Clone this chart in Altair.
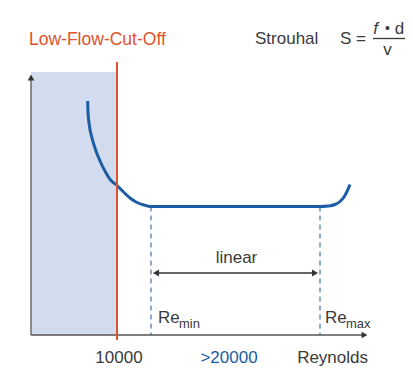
import altair as alt
import pandas as pd

# ---- data (schematic coordinates: x from left, y from top of the figure) ----
curve_x = [87.7, 88, 89.3, 92, 96, 100.5, 105.5, 110.5, 116, 123, 130, 137, 144,
           151, 320, 328, 335, 340, 344, 347, 350]
curve_y = [101, 112, 125, 138, 151, 162, 172, 180, 184.5, 191.5, 198, 202.5, 205,
           206.5, 206.5, 206, 204.5, 201.5, 197, 191.5, 184.5]

cutoff_x = 117          # Low-Flow-Cut-Off (Re = 10000)
re_min_x = 151
re_max_x = 320
flat_y = 206.5
axis_x0, axis_y0 = 31, 335
axis_x_end, axis_y_top = 368, 74
shade_top = 72

bottom_labels = ["10000", ">20000"]
bottom_label_x = [119, 229]

W, H = 413, 376
FONT = "Liberation Sans"
GRAY = "#3a3a3a"
BLUE = "#1b5ca5"
ORANGE = "#e0532c"

xs = alt.Scale(domain=[0, W])
ys = alt.Scale(domain=[H, 0])


def X(f="x"):
    return alt.X(f"{f}:Q", scale=xs, axis=None)


def Y(f="y"):
    return alt.Y(f"{f}:Q", scale=ys, axis=None)


shade = alt.Chart(pd.DataFrame({"x": [axis_x0], "x2": [cutoff_x], "y": [shade_top], "y2": [axis_y0]})).mark_rect(
    color="#d3dbee").encode(x=X(), x2="x2:Q", y=Y(), y2="y2:Q")

axes = alt.Chart(pd.DataFrame({
    "x": [axis_x0, axis_x0], "x2": [axis_x_end - 4, axis_x0],
    "y": [axis_y0, axis_y0], "y2": [axis_y0, axis_y_top + 4]})).mark_rule(
    color="#555555", strokeWidth=1.3).encode(x=X(), x2="x2:Q", y=Y(), y2="y2:Q")

axis_heads = alt.Chart(pd.DataFrame({
    "x": [axis_x_end - 3.5, axis_x0], "y": [axis_y0, axis_y_top + 3.5],
    "s": ["triangle-right", "triangle-up"]})).mark_point(
    filled=True, color="#333333", size=45, opacity=1).encode(
    x=X(), y=Y(), shape=alt.Shape("s:N", scale=None))

cutoff = alt.Chart(pd.DataFrame({"x": [cutoff_x], "y": [62], "y2": [340]})).mark_rule(
    color=ORANGE, strokeWidth=2).encode(x=X(), y=Y(), y2="y2:Q")

dashes = alt.Chart(pd.DataFrame({"x": [re_min_x, re_max_x], "y": [flat_y, flat_y],
                                 "y2": [axis_y0, axis_y0]})).mark_rule(
    color="#4f7fb8", strokeWidth=1.3, strokeDash=[5, 4]).encode(x=X(), y=Y(), y2="y2:Q")

curve_df = pd.DataFrame({"x": curve_x, "y": curve_y, "i": range(len(curve_x))})
curve = alt.Chart(curve_df).mark_line(
    color=BLUE, strokeWidth=3, interpolate="monotone").encode(x=X(), y=Y(), order="i:Q")

arrow_line = alt.Chart(pd.DataFrame({"x": [re_min_x + 4], "x2": [re_max_x - 4], "y": [273]})).mark_rule(
    color="#333333", strokeWidth=1.5).encode(x=X(), x2="x2:Q", y=Y())
arrow_heads = alt.Chart(pd.DataFrame({
    "x": [re_min_x + 5, re_max_x - 5], "y": [273, 273],
    "s": ["triangle-left", "triangle-right"]})).mark_point(
    filled=True, color="#333333", size=50, opacity=1).encode(
    x=X(), y=Y(), shape=alt.Shape("s:N", scale=None))


def text(df, **kw):
    base = dict(font=FONT, fontSize=17, color=GRAY, align="left", baseline="alphabetic")
    base.update(kw)
    return alt.Chart(pd.DataFrame(df)).mark_text(**base).encode(x=X(), y=Y(), text="t:N")


t_cut = text({"x": [29], "y": [45], "t": ["Low-Flow-Cut-Off"]}, color=ORANGE, fontSize=17.5)
t_str = text({"x": [255], "y": [44], "t": ["Strouhal"]})
t_S = text({"x": [340], "y": [44], "t": ["S ="]})
t_f = text({"x": [375.5], "y": [34], "t": ["f"]}, align="center", fontStyle="italic")
t_dot = text({"x": [387.5], "y": [33], "t": ["•"]}, align="center", fontSize=14)
t_d = text({"x": [399.5], "y": [34], "t": ["d"]}, align="center")
frac = alt.Chart(pd.DataFrame({"x": [373], "x2": [405], "y": [38.5]})).mark_rule(
    color=GRAY, strokeWidth=1.3).encode(x=X(), x2="x2:Q", y=Y())
t_v = text({"x": [387.5], "y": [55], "t": ["v"]}, align="center")

t_lin = text({"x": [236.5], "y": [263], "t": ["linear"]}, align="center")
t_re = text({"x": [158, 325], "y": [323, 323], "t": ["Re", "Re"]})
t_sub = text({"x": [179, 346], "y": [328, 328], "t": ["min", "max"]}, fontSize=13)

t_10k = text({"x": [bottom_label_x[0]], "y": [363], "t": [bottom_labels[0]]}, align="center")
t_20k = text({"x": [bottom_label_x[1]], "y": [363], "t": [bottom_labels[1]]}, align="center", color=BLUE)
t_rey = text({"x": [368], "y": [363], "t": ["Reynolds"]}, align="right")

chart = alt.layer(
    shade, dashes, axes, axis_heads, curve, cutoff, arrow_line, arrow_heads,
    t_cut, t_str, t_S, t_f, t_dot, t_d, frac, t_v, t_lin, t_re, t_sub, t_10k, t_20k, t_rey
).properties(width=W, height=H, padding=0, autosize=alt.AutoSizeParams(type="none"),
             background="white").configure_view(stroke=None)

chart.save("out.html", embed_options={"renderer": "svg", "actions": False})
